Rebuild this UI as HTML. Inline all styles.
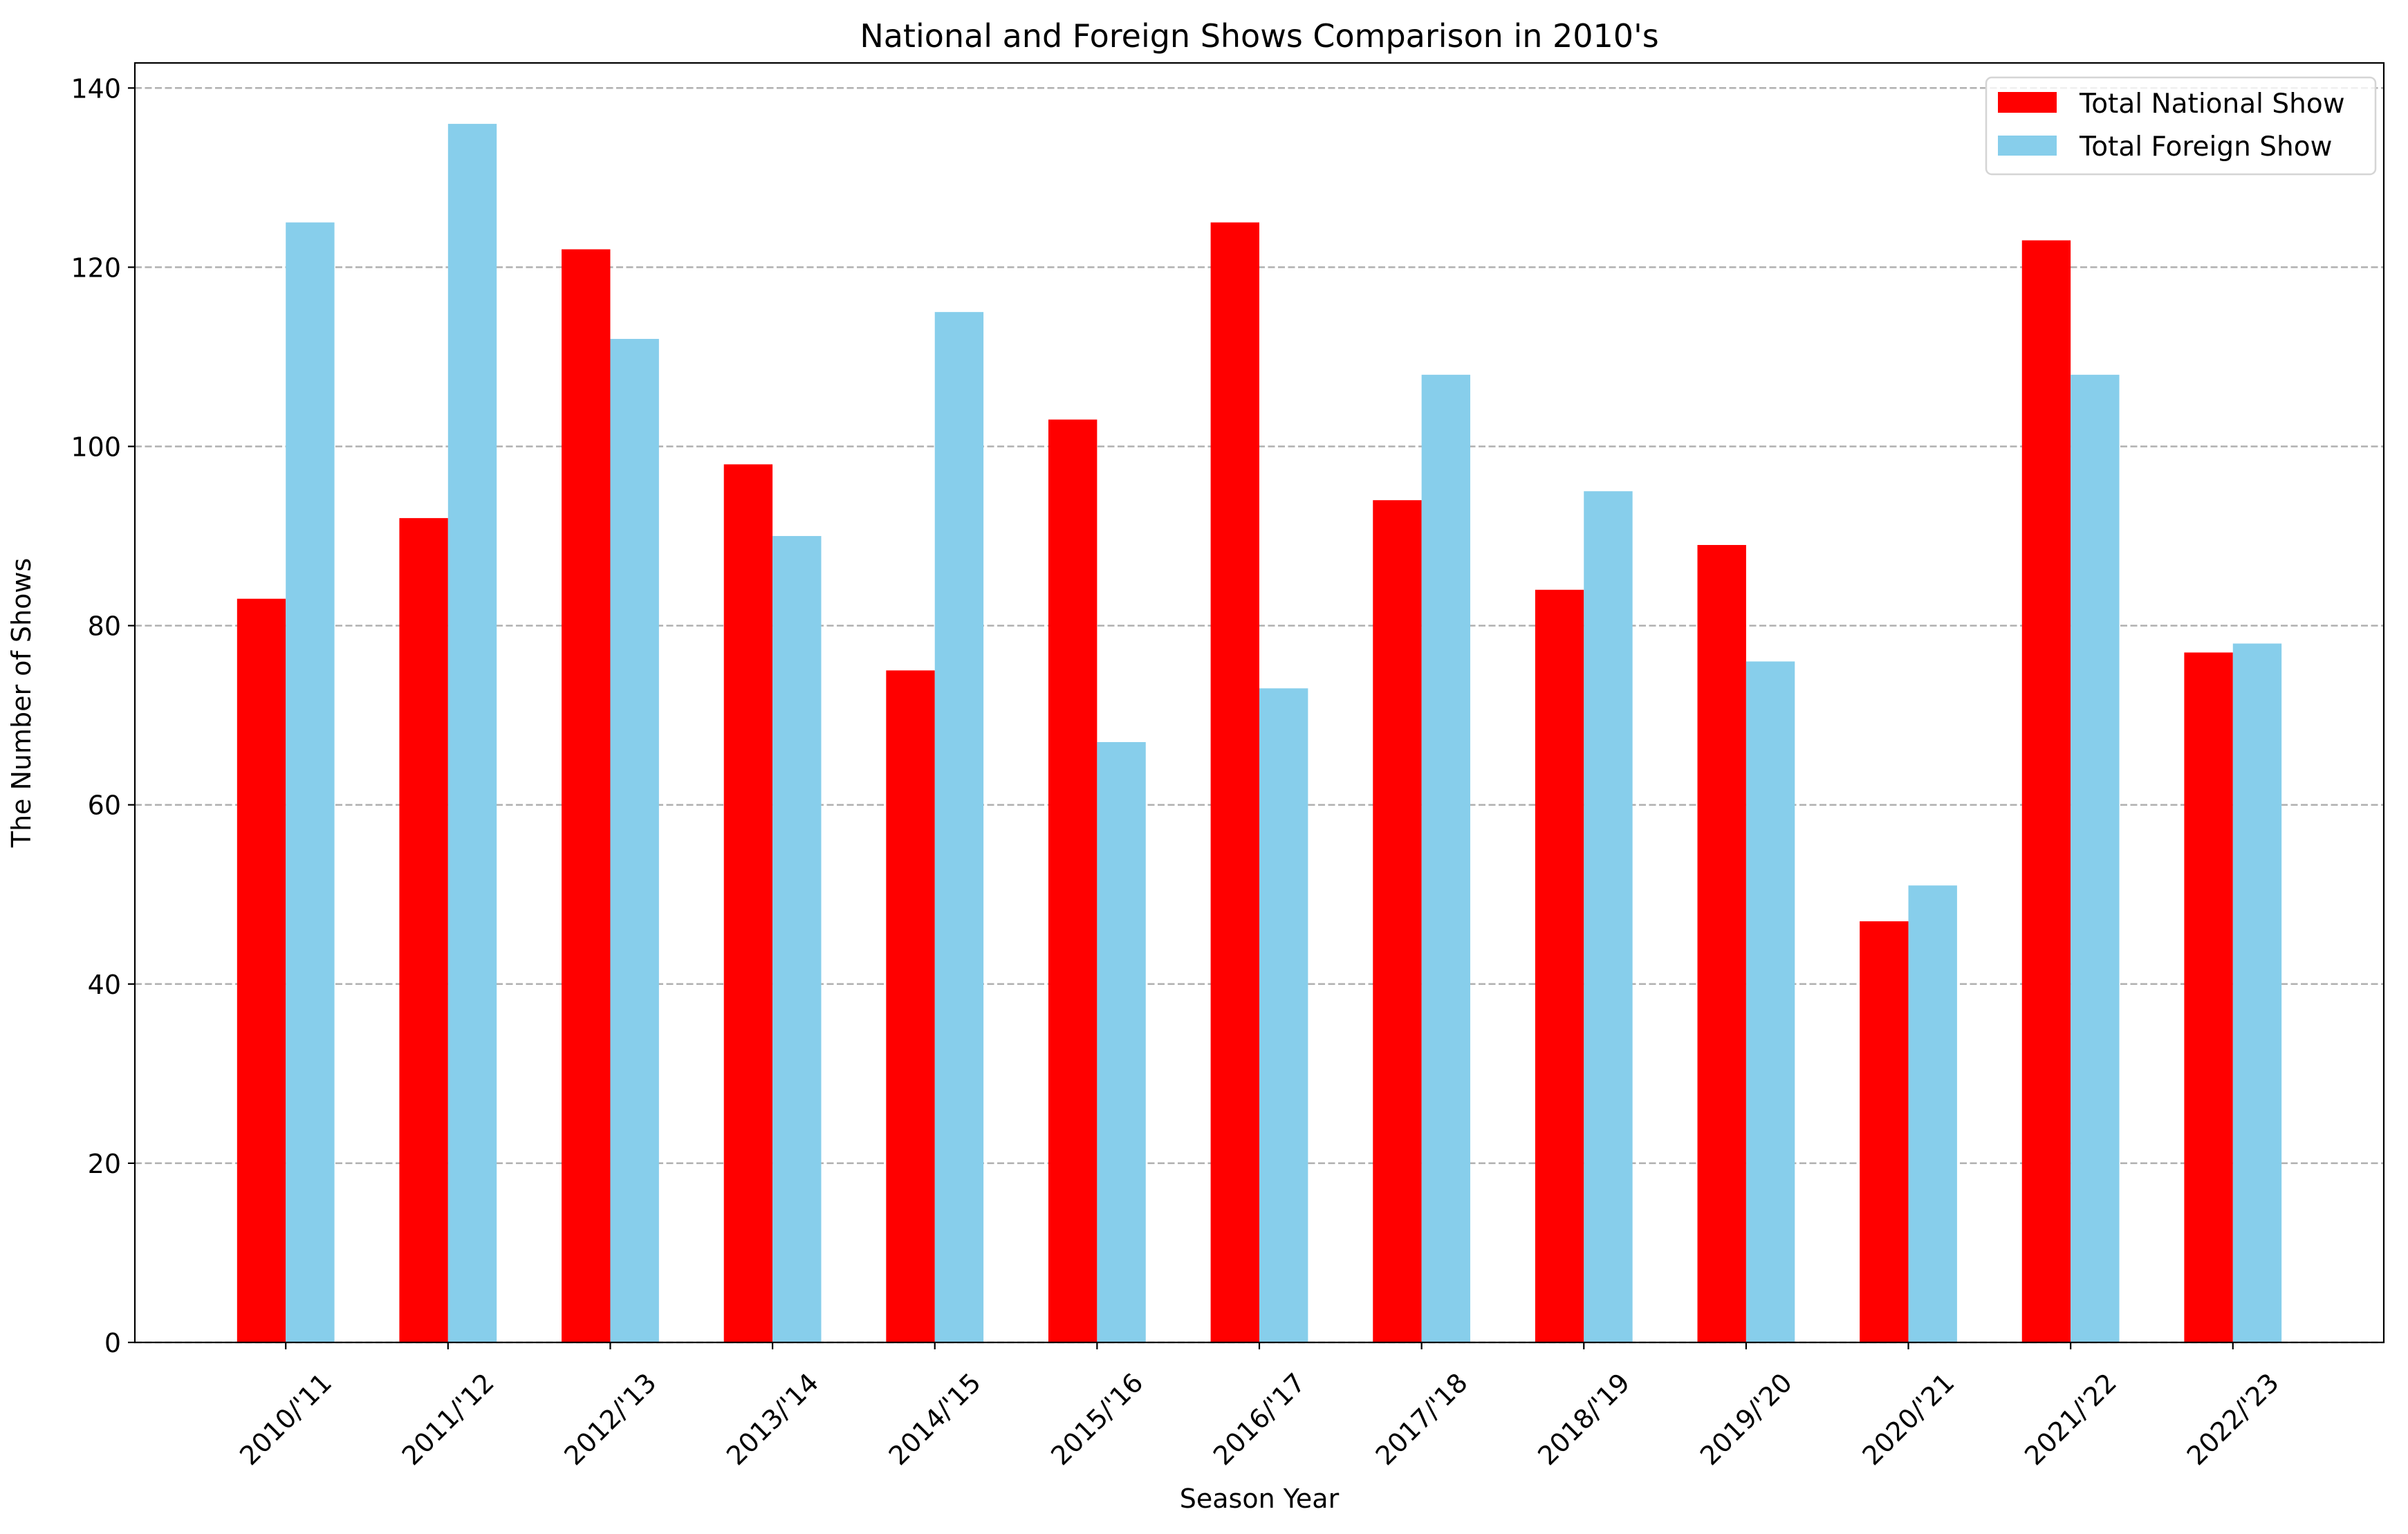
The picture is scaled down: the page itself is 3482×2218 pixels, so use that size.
<!DOCTYPE html>
<html><head><meta charset="utf-8"><style>
html,body{margin:0;padding:0;background:#fff;}
svg{display:block;font-family:"DejaVu Sans","Liberation Sans",sans-serif;}
</style></head><body>
<svg id="chart" width="3482" height="2218" viewBox="0 0 3482 2218" xmlns="http://www.w3.org/2000/svg">
<rect width="3482" height="2218" fill="#fff"/>
<text x="1821" y="68" font-size="46" text-anchor="middle">National and Foreign Shows Comparison in 2010's</text>
<g id="grid"></g><g id="bars"></g><g id="axes"></g>
<text x="1821" y="2180" font-size="38" text-anchor="middle">Season Year</text>
<text transform="translate(44,1016) rotate(-90)" font-size="38" text-anchor="middle">The Number of Shows</text>
<g>
<rect x="2872" y="112" width="563" height="140" rx="8" fill="#fff" fill-opacity="0.8" stroke="#d5d5d5" stroke-width="2.5"/>
<rect x="2889" y="133" width="85" height="30" fill="#ff0000"/>
<text x="3007" y="163" font-size="39">Total National Show</text>
<rect x="2889" y="196" width="85" height="29" fill="#87ceeb"/>
<text x="3007" y="225" font-size="39">Total Foreign Show</text>
</g>
</svg>
<script>
const categories = ["2010/'11","2011/'12","2012/'13","2013/'14","2014/'15","2015/'16","2016/'17","2017/'18","2018/'19","2019/'20","2020/'21","2021/'22","2022/'23"];
const nationalValues = [83,92,122,98,75,103,125,94,84,89,47,123,77];
const foreignValues = [125,136,112,90,115,67,73,108,95,76,51,108,78];
const yTicks = [0,20,40,60,80,100,120,140];

const NS="http://www.w3.org/2000/svg";
const L=195,R=3447,T=91,B=1941;
const xMin=-0.93,xMax=categories.length-1+0.93;
const yMax=Math.max(...nationalValues,...foreignValues)*1.05;
const xS=v=>L+(v-xMin)/(xMax-xMin)*(R-L);
const yS=v=>B-v/yMax*(B-T);
const bw=0.3;
function mk(tag,attrs,parent){const e=document.createElementNS(NS,tag);for(const k in attrs)e.setAttribute(k,attrs[k]);parent.appendChild(e);return e;}
const grid=document.getElementById('grid'),bars=document.getElementById('bars'),axes=document.getElementById('axes');
yTicks.forEach(t=>{
  const y=yS(t);
  const g=mk('line',{x1:L,x2:R,y1:y,y2:y,stroke:'#b0b0b0','stroke-width':2.5,'stroke-dasharray':'10,4.5'},grid);
  
  
  const tk=mk('line',{x1:L-10,x2:L,y1:y,y2:y,stroke:'#000','stroke-width':2.2},axes);
  
  
  const tx=mk('text',{x:L-20,y:y+14,'font-size':38,'text-anchor':'end'},axes);
  tx.textContent=t;
  
  
});
categories.forEach((c,i)=>{
  const x0=xS(i-bw),x1=xS(i),x2=xS(i+bw);
  const r1=mk('rect',{x:x0,y:yS(nationalValues[i]),width:x1-x0,height:B-yS(nationalValues[i]),fill:'#ff0000'},bars);
  
  
  const r2=mk('rect',{x:x1,y:yS(foreignValues[i]),width:x2-x1,height:B-yS(foreignValues[i]),fill:'#87ceeb'},bars);
  
  
  const tk=mk('line',{x1:x1,x2:x1,y1:B,y2:B+10,stroke:'#000','stroke-width':2.2},axes);
  
  
  const tx=mk('text',{x:0,y:0,'font-size':38,'text-anchor':'middle','dominant-baseline':'central',transform:`translate(${x1},2052) rotate(-45)`},axes);
  tx.textContent=c;
  
  
});
const fr=mk('rect',{x:L,y:T,width:R-L,height:B-T,fill:'none',stroke:'#000','stroke-width':2.2},axes);


</script>
</body></html>
